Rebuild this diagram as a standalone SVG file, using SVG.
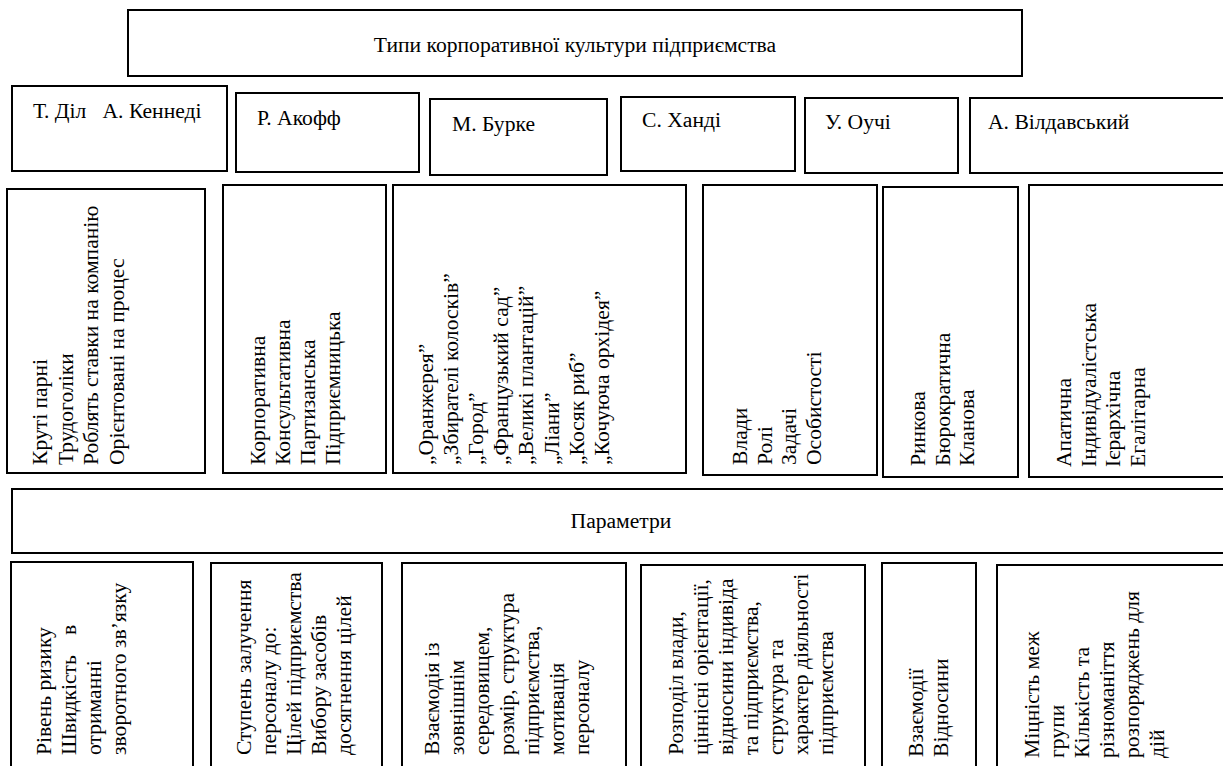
<svg xmlns="http://www.w3.org/2000/svg" width="1223" height="766" viewBox="0 0 1223 766" font-family="'Liberation Serif', 'Times New Roman', 'DejaVu Serif', serif">
<style>
.b{fill:#fff;stroke:#000;stroke-width:2}
.t{font-family:'Liberation Serif','Times New Roman','DejaVu Serif',serif;font-size:21.6px;fill:#000}
.p{white-space:pre}
</style>
<rect width="1223" height="766" fill="#fff"/>
<g id="title"><rect class="b" x="128" y="10" width="894" height="66"/><text class="t" x="575" y="52" text-anchor="middle">Типи корпоративної культури підприємства</text></g>
<g id="a1"><rect class="b" x="12" y="86" width="215" height="85"/><text class="t p" x="33" y="118">Т. Діл   А. Кеннеді</text></g>
<g id="a2"><rect class="b" x="236" y="93" width="183" height="79"/><text class="t" x="257" y="125">Р. Акофф</text></g>
<g id="a3"><rect class="b" x="430" y="99" width="177" height="76"/><text class="t" x="452" y="131">М. Бурке</text></g>
<g id="a4"><rect class="b" x="621" y="97" width="174" height="74"/><text class="t" x="642" y="127">С. Ханді</text></g>
<g id="a5"><rect class="b" x="805" y="98" width="153" height="75"/><text class="t" x="825" y="129">У. Оучі</text></g>
<g id="a6"><rect class="b" x="970" y="98" width="260" height="75"/><text class="t" x="988" y="129">А. Вілдавський</text></g>

<g id="c1"><rect class="b" x="7" y="189" width="198" height="284"/><text class="t" transform="translate(47,465) rotate(-90)"><tspan x="0" dy="0">Круті парні</tspan><tspan x="0" dy="25.5">Трудоголіки</tspan><tspan x="0" dy="25.5">Роблять ставки на компанію</tspan><tspan x="0" dy="25.5">Орієнтовані на процес</tspan></text></g>
<g id="c2"><rect class="b" x="223" y="185" width="163" height="288"/><text class="t" transform="translate(265,465) rotate(-90)"><tspan x="0" dy="0">Корпоративна</tspan><tspan x="0" dy="25">Консультативна</tspan><tspan x="0" dy="25">Партизанська</tspan><tspan x="0" dy="25">Підприємницька</tspan></text></g>
<g id="c3"><rect class="b" x="393" y="185" width="293" height="288"/><text class="t" transform="translate(433,465) rotate(-90)"><tspan x="0" dy="0">„Оранжерея”</tspan><tspan x="0" dy="25.1">„Збирателі колосків”</tspan><tspan x="0" dy="25.1">„Город”</tspan><tspan x="0" dy="25.1">„Французький сад”</tspan><tspan x="0" dy="25.1">„Великі плантацій”</tspan><tspan x="0" dy="25.1">„Ліани”</tspan><tspan x="0" dy="25.1">„Косяк риб”</tspan><tspan x="0" dy="25.1">„Кочуюча орхідея”</tspan></text></g>
<g id="c4"><rect class="b" x="703" y="185" width="174" height="290"/><text class="t" transform="translate(747,465) rotate(-90)"><tspan x="0" dy="0">Влади</tspan><tspan x="0" dy="24.5">Ролі</tspan><tspan x="0" dy="24.5">Задачі</tspan><tspan x="0" dy="24.5">Особистості</tspan></text></g>
<g id="c5"><rect class="b" x="883" y="187" width="135" height="290"/><text class="t" transform="translate(925,466) rotate(-90)"><tspan x="0" dy="0">Ринкова</tspan><tspan x="0" dy="24.5">Бюрократична</tspan><tspan x="0" dy="24.5">Кланова</tspan></text></g>
<g id="c6"><rect class="b" x="1029" y="185" width="210" height="292"/><text class="t" transform="translate(1071,467) rotate(-90)"><tspan x="0" dy="0">Апатична</tspan><tspan x="0" dy="24.5">Індивідуалістська</tspan><tspan x="0" dy="24.5">Ієрархічна</tspan><tspan x="0" dy="24.5">Егалітарна</tspan></text></g>

<g id="params"><rect class="b" x="12" y="489" width="1225" height="64"/><text class="t" x="621" y="528" text-anchor="middle">Параметри</text></g>

<g id="p1"><rect class="b" x="11" y="562" width="182" height="215"/><text class="t" transform="translate(51,755) rotate(-90)"><tspan x="0" dy="0">Рівень ризику</tspan><tspan x="0" dy="25">Швидкість</tspan><tspan x="120">в</tspan><tspan x="0" dy="25">отриманні</tspan><tspan x="0" dy="25">зворотного зв’язку</tspan></text></g>
<g id="p2"><rect class="b" x="211" y="563" width="171" height="214"/><text class="t" transform="translate(251,755) rotate(-90)"><tspan x="0" dy="0">Ступень залучення</tspan><tspan x="0" dy="25">персоналу до:</tspan><tspan x="0" dy="25">Цілей підприємства</tspan><tspan x="0" dy="25">Вибору засобів</tspan><tspan x="0" dy="25">досягнення цілей</tspan></text></g>
<g id="p3"><rect class="b" x="402" y="563" width="224" height="214"/><text class="t" transform="translate(439,755) rotate(-90)"><tspan x="0" dy="0">Взаємодія із</tspan><tspan x="0" dy="25">зовнішнім</tspan><tspan x="0" dy="25">середовищем,</tspan><tspan x="0" dy="25">розмір, структура</tspan><tspan x="0" dy="25">підприємства,</tspan><tspan x="0" dy="25">мотивація</tspan><tspan x="0" dy="25">персоналу</tspan></text></g>
<g id="p4"><rect class="b" x="641" y="565" width="224" height="212"/><text class="t" transform="translate(683,755) rotate(-90)"><tspan x="0" dy="0">Розподіл влади,</tspan><tspan x="0" dy="25">ціннісні орієнтації,</tspan><tspan x="0" dy="25">відносини індивіда</tspan><tspan x="0" dy="25">та підприємства,</tspan><tspan x="0" dy="25">структура та</tspan><tspan x="0" dy="25">характер діяльності</tspan><tspan x="0" dy="25">підприємства</tspan></text></g>
<g id="p5"><rect class="b" x="882" y="563" width="94" height="214"/><text class="t" transform="translate(923,757) rotate(-90)"><tspan x="0" dy="0">Взаємодії</tspan><tspan x="0" dy="25">Відносини</tspan></text></g>
<g id="p6"><rect class="b" x="997" y="565" width="240" height="212"/><text class="t" transform="translate(1039,758) rotate(-90)"><tspan x="0" dy="0">Міцність меж</tspan><tspan x="0" dy="25">групи</tspan><tspan x="0" dy="25">Кількість та</tspan><tspan x="0" dy="25">різноманіття</tspan><tspan x="0" dy="25">розпоряджень для</tspan><tspan x="0" dy="25">дій</tspan></text></g>
<g id="connectors"></g>
</svg>
